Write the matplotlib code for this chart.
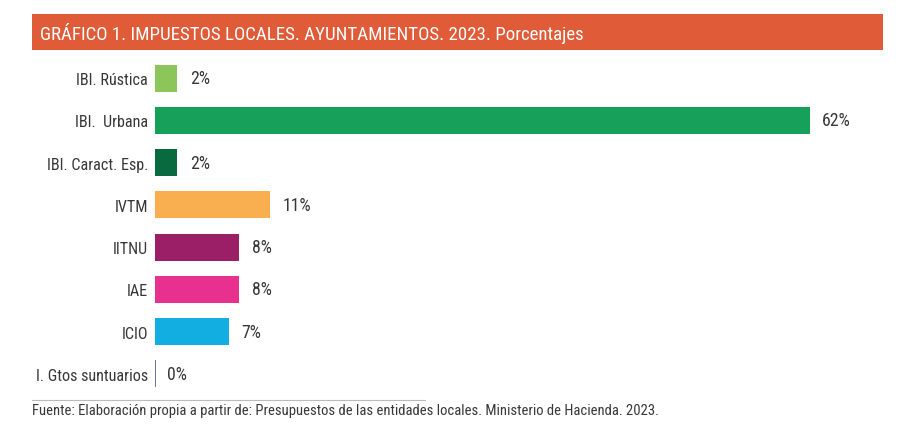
import matplotlib
matplotlib.use("Agg")
import matplotlib.pyplot as plt
from matplotlib.patches import Rectangle
from matplotlib.lines import Line2D
from matplotlib import font_manager

categories = ["IBI. Rústica", "IBI.  Urbana", "IBI. Caract. Esp.", "IVTM", "IITNU", "IAE", "ICIO", "I. Gtos suntuarios"]
values = [2.1, 62.0, 2.1, 10.9, 8.0, 8.0, 7.0, 0.0]
value_labels = ["2%", "62%", "2%", "11%", "8%", "8%", "7%", "0%"]
colors = ["#8CC65A", "#16A05A", "#0A6A3F", "#F9AE4F", "#9A1F66", "#E8308E", "#12AEE2", "#4A5F85"]
title = "GRÁFICO 1. IMPUESTOS LOCALES. AYUNTAMIENTOS. 2023. Porcentajes"
source = "Fuente: Elaboración propia a partir de: Presupuestos de las entidades locales. Ministerio de Hacienda. 2023."

# choose a condensed font if one is installed
entries = font_manager.fontManager.ttflist
names = {f.name for f in entries}
family, stretch, scale = "DejaVu Sans", "normal", 0.82
for cand in ["Liberation Sans Narrow", "Roboto Condensed", "Open Sans Condensed", "Arial Narrow"]:
    if cand in names:
        family, stretch, scale = cand, "normal", 1.0
        break
else:
    for f in entries:
        st = str(f.stretch).lower()
        if f.name == "DejaVu Sans" and ("condensed" in st or st.isdigit() and int(st) < 500):
            family, stretch, scale = "DejaVu Sans", "condensed", 0.9
            break
plt.rcParams['font.family'] = [family, 'DejaVu Sans']
plt.rcParams['font.stretch'] = stretch

W, H = 903, 439
fig = plt.figure(figsize=(W/100, H/100), dpi=100)

# title banner
fig.patches.append(Rectangle((32/W, 1-51/H), (883-32)/W, 36/H, transform=fig.transFigure,
                             facecolor="#E05B37", edgecolor="none"))
fig.text(40/W, 1-33/H, title, color="white", fontsize=13.6*scale, va="center", ha="left")

ax = fig.add_axes([155/W, 1-396/H, (883-155)/W, (396-58)/H])
y = list(range(len(categories)))
ax.barh(y, values, height=0.64, color=colors,
        edgecolor=["none"]*7 + [colors[-1]], linewidth=[0]*7 + [1.2])
ax.set_ylim(len(categories)-0.5, -0.5)
ax.set_xlim(0, (883-155)/10.56)
ax.set_yticks(y)
ax.set_yticklabels(categories, fontsize=11.6*scale, color="#383838")
ax.tick_params(axis="y", length=0, pad=5)
ax.set_xticks([])
for s in ax.spines.values():
    s.set_visible(False)
for yi, v, lab in zip(y, values, value_labels):
    ax.annotate(lab, (v, yi), xytext=(9, 0), textcoords="offset points",
                va="center", ha="left", fontsize=12.8*scale, color="#383838")

fig.lines.append(Line2D([32/W, 425/W], [1-401/H, 1-401/H], transform=fig.transFigure,
                        color="#BBBBBB", linewidth=0.8))
fig.text(32/W, 1-411/H, source, fontsize=10.5*scale, color="#383838", va="center", ha="left")

fig.savefig("out.png", dpi=100)
